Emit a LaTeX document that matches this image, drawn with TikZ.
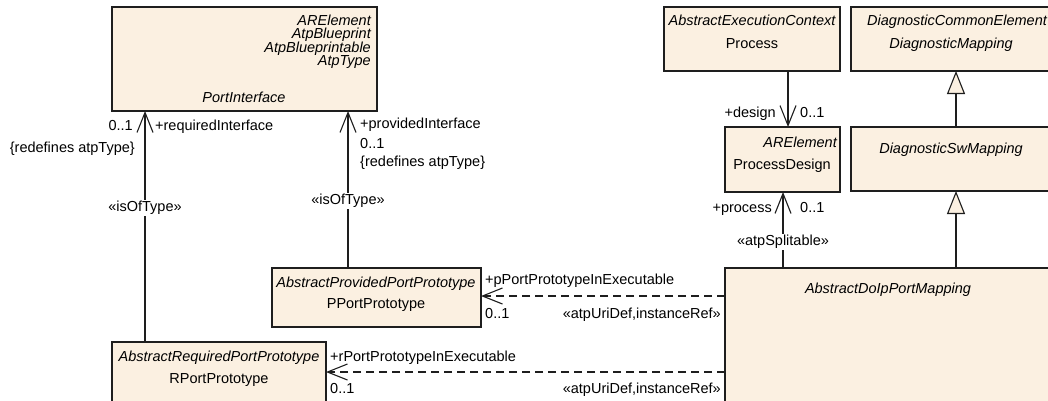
\documentclass[tikz,border=0pt]{standalone}
\usepackage{fontspec}
\setmainfont{Liberation Sans}
\usetikzlibrary{arrows.meta}
\definecolor{boxfill}{RGB}{251,240,225}
\definecolor{ln}{RGB}{30,30,30}
\begin{document}
\begin{tikzpicture}[x=1pt,y=-1pt,
  font=\fontsize{14.5}{17}\selectfont,
  cls/.style={draw=ln, fill=boxfill, line width=1.2pt, inner sep=0pt, outer sep=0pt, anchor=north west},
  lbl/.style={inner sep=0pt},
  it/.style={inner sep=0pt, font=\fontsize{14.5}{17}\selectfont\itshape},
  assoc/.style={draw=ln, line width=1.1pt, -{Straight Barb[length=20pt,width=16pt]}},
  dep/.style={assoc, dash pattern=on 8pt off 5pt},
  gen/.style={draw=ln, line width=1.1pt, -{Triangle[length=23pt,width=18pt,fill=boxfill]}},
  bg/.style={fill=white, inner sep=1.5pt}]
\useasboundingbox (0,0) rectangle (1048,400);

% ---- classes ----
\node[cls, minimum width=265pt, minimum height=104pt] (pi) at (112,7) {};
\node[it, anchor=base east] (pi1) at (371,25) {ARElement};
\node[it, anchor=base east] (pi2) at (371,38.5) {AtpBlueprint};
\node[it, anchor=base east] (pi3) at (371,52) {AtpBlueprintable};
\node[it, anchor=base east] (pi4) at (371,65.5) {AtpType};
\node[it, anchor=base] (pin) at (244,102) {PortInterface};

\node[cls, minimum width=176pt, minimum height=64pt] (proc) at (664,7) {};
\node[it, anchor=base] (proc1) at (752,25) {AbstractExecutionContext};
\node[lbl, anchor=base] (procn) at (752,48) {Process};

\node[cls, minimum width=115pt, minimum height=65pt] (pd) at (725,127) {};
\node[it, anchor=base east] (pd1) at (837,147) {ARElement};
\node[lbl, anchor=base] (pdn) at (782,169) {ProcessDesign};

\node[cls, minimum width=201pt, minimum height=64pt] (dm) at (851,7) {};
\node[it, anchor=base west] (dm1) at (867,25) {DiagnosticCommonElement};
\node[it, anchor=base] (dmn) at (951,48) {DiagnosticMapping};

\node[cls, minimum width=201pt, minimum height=64pt] (sw) at (851,127) {};
\node[it, anchor=base] (swn) at (951,153) {DiagnosticSwMapping};

\node[cls, minimum width=327pt, minimum height=152pt] (dp) at (725,268) {};
\node[it, anchor=base] (dpn) at (888,293) {AbstractDoIpPortMapping};

\node[cls, minimum width=209pt, minimum height=59pt] (pp) at (272,268) {};
\node[it, anchor=base] (pp1) at (376,287) {AbstractProvidedPortPrototype};
\node[lbl, anchor=base] (ppn) at (376,308) {PPortPrototype};

\node[cls, minimum width=214pt, minimum height=78pt] (rp) at (112,342) {};
\node[it, anchor=base] (rp1) at (219,361) {AbstractRequiredPortPrototype};
\node[lbl, anchor=base] (rpn) at (219,383) {RPortPrototype};

% ---- connectors ----
\coordinate (rq) at ([xshift=33pt]rp.north west);
\draw[assoc] (rq) -- (rq |- pi.south);
\coordinate (pv) at ([xshift=76pt]pp.north west);
\draw[assoc] (pv) -- (pv |- pi.south);
\coordinate (ds) at ([xshift=63pt]pd.north west);
\draw[assoc] (ds |- proc.south) -- (ds);
\coordinate (pr) at ([xshift=58pt]dp.north west);
\draw[assoc] (pr) -- (pr |- pd.south);
\coordinate (g1) at ([xshift=105pt]sw.north west);
\draw[gen] (g1) -- (g1 |- dm.south);
\coordinate (g2) at ([xshift=231pt]dp.north west);
\draw[gen] (g2) -- (g2 |- sw.south);
\coordinate (d1) at ([yshift=-28pt]dp.north west);
\draw[dep] (d1) -- (d1 -| pp.east);
\coordinate (d2) at ([yshift=-104pt]dp.north west);
\draw[dep] (d2) -- (d2 -| rp.east);

% ---- labels ----
\node[lbl, anchor=base east] (l1) at (133,130) {0..1};
\node[lbl, anchor=base west] (l2) at (155,130) {+requiredInterface};
\node[lbl, anchor=base east] (l3) at (135,152) {\{redefines atpType\}};
\node[bg] (l4) at (145,208) {«isOfType»};

\node[lbl, anchor=base west] (l5) at (360,128) {+providedInterface};
\node[lbl, anchor=base west] (l6) at (360,148) {0..1};
\node[lbl, anchor=base west] (l7) at (360,166) {\{redefines atpType\}};
\node[bg] (l8) at (348,201) {«isOfType»};

\node[lbl, anchor=base east] (l9) at (776,117) {+design};
\node[lbl, anchor=base west] (l10) at (800,117) {0..1};
\node[lbl, anchor=base east] (l11) at (772,212) {+process};
\node[lbl, anchor=base west] (l12) at (800,212) {0..1};
\node[bg] (l13) at (783,242) {«atpSplitable»};

\node[lbl, anchor=base west] (l14) at (485,284) {+pPortPrototypeInExecutable};
\node[lbl, anchor=base west] (l15) at (485,318) {0..1};
\node[lbl, anchor=base east] (l16) at (721,318) {«atpUriDef,instanceRef»};

\node[lbl, anchor=base west] (l17) at (330,361) {+rPortPrototypeInExecutable};
\node[lbl, anchor=base west] (l18) at (330,393) {0..1};
\node[lbl, anchor=base east] (l19) at (721,393) {«atpUriDef,instanceRef»};
\end{tikzpicture}
\end{document}
